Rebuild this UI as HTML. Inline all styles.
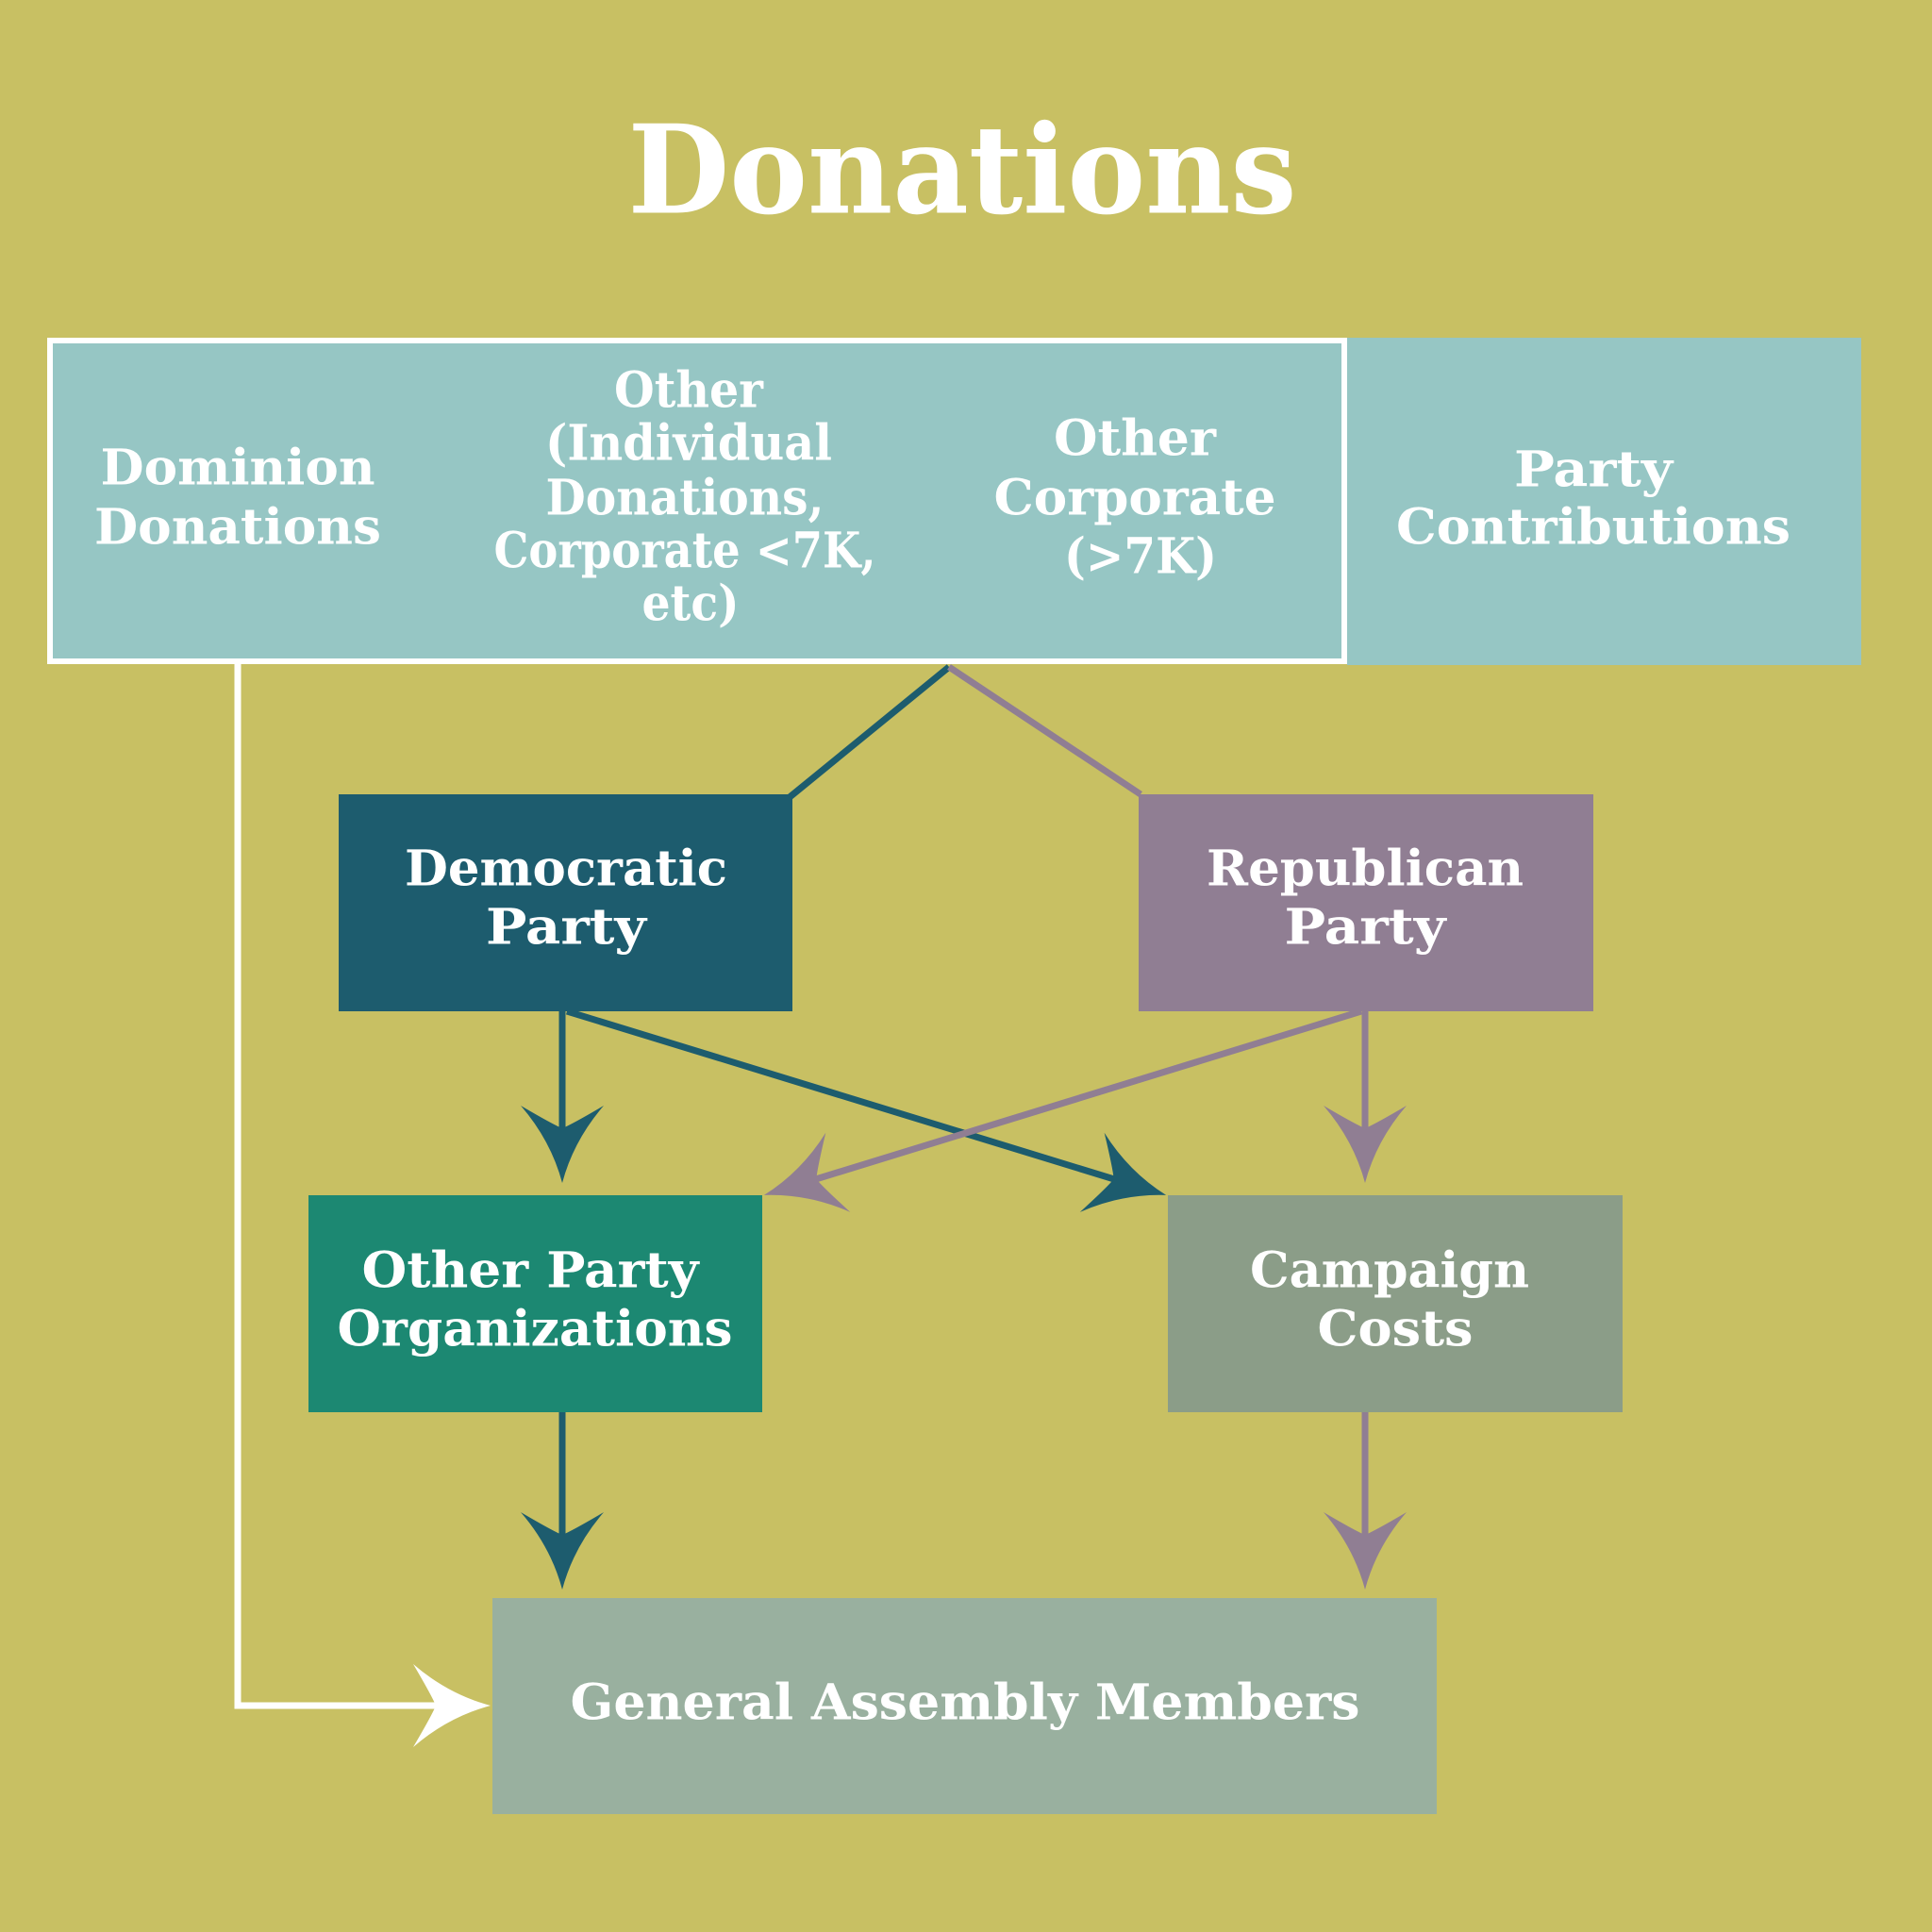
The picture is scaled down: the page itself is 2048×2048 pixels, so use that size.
<!DOCTYPE html>
<html><head><meta charset="utf-8"><style>
html,body{margin:0;padding:0;background:#c8c063;}
svg{display:block}
text{font-family:"DejaVu Serif","Liberation Serif",serif;font-weight:bold;fill:#fff;text-anchor:middle;dominant-baseline:central}
</style></head><body>
<svg width="2048" height="2048" viewBox="0 0 2048 2048" xmlns="http://www.w3.org/2000/svg">
<defs>
<marker id="mT" markerUnits="userSpaceOnUse" markerWidth="200" markerHeight="200" refX="-20" refY="0" viewBox="-100 -100 200 200" orient="auto"><path d="M0,0 Q-45,-12 -82,-44 Q-62,-10 -58,0 Q-62,10 -82,44 Q-45,12 0,0Z" fill="#1d5c6e"/></marker>
<marker id="mP" markerUnits="userSpaceOnUse" markerWidth="200" markerHeight="200" refX="-20" refY="0" viewBox="-100 -100 200 200" orient="auto"><path d="M0,0 Q-45,-12 -82,-44 Q-62,-10 -58,0 Q-62,10 -82,44 Q-45,12 0,0Z" fill="#907e93"/></marker>
<marker id="mW" markerUnits="userSpaceOnUse" markerWidth="200" markerHeight="200" refX="-20" refY="0" viewBox="-100 -100 200 200" orient="auto"><path d="M0,0 Q-45,-12 -82,-44 Q-62,-10 -58,0 Q-62,10 -82,44 Q-45,12 0,0Z" fill="#fff"/></marker>
</defs>
<rect width="2048" height="2048" fill="#c8c063"/>
<text x="1020" y="180" font-size="130" textLength="709" lengthAdjust="spacingAndGlyphs">Donations</text>

<rect x="1428" y="358" width="545" height="347" fill="#96c6c4"/>
<rect x="53" y="361" width="1372" height="340" fill="#96c6c4" stroke="#fff" stroke-width="6"/>

<g font-size="52">
<text x="252" y="496" textLength="291" lengthAdjust="spacingAndGlyphs">Dominion</text>
<text x="252" y="559" textLength="304" lengthAdjust="spacingAndGlyphs">Donations</text>
<text x="730" y="414" textLength="158" lengthAdjust="spacingAndGlyphs">Other</text>
<text x="730" y="470" textLength="304" lengthAdjust="spacingAndGlyphs">(Individual</text>
<text x="726" y="528" textLength="295" lengthAdjust="spacingAndGlyphs">Donations,</text>
<text x="726" y="584" textLength="405" lengthAdjust="spacingAndGlyphs">Corporate &lt;7K,</text>
<text x="732" y="640" textLength="103" lengthAdjust="spacingAndGlyphs">etc)</text>
<text x="1203" y="465" textLength="172" lengthAdjust="spacingAndGlyphs">Other</text>
<text x="1203" y="528" textLength="299" lengthAdjust="spacingAndGlyphs">Corporate</text>
<text x="1209" y="590" textLength="162" lengthAdjust="spacingAndGlyphs">(&gt;7K)</text>
<text x="1689" y="498" textLength="168" lengthAdjust="spacingAndGlyphs">Party</text>
<text x="1689" y="559" textLength="418" lengthAdjust="spacingAndGlyphs">Contributions</text>
</g>

<g stroke-width="7" fill="none">
<path d="M1006,707 L837,845" stroke="#1d5c6e"/>
<path d="M1006,707 L1209,842" stroke="#907e93"/>
<path d="M596,1072 L596,1234" stroke="#1d5c6e" marker-end="url(#mT)"/>
<path d="M601,1072 L1217,1261" stroke="#1d5c6e" marker-end="url(#mT)"/>
<path d="M1443,1072 L829,1261" stroke="#907e93" marker-end="url(#mP)"/>
<path d="M1447,1072 L1447,1234" stroke="#907e93" marker-end="url(#mP)"/>
<path d="M596,1497 L596,1665" stroke="#1d5c6e" marker-end="url(#mT)"/>
<path d="M1447,1497 L1447,1665" stroke="#907e93" marker-end="url(#mP)"/>
<path d="M252,704 L252,1808 L500,1808" stroke="#fff" marker-end="url(#mW)"/>
</g>

<rect x="359" y="842" width="481" height="230" fill="#1d5c6e"/>
<rect x="1207" y="842" width="482" height="230" fill="#907e93"/>
<rect x="327" y="1267" width="481" height="230" fill="#1c8872"/>
<rect x="1238" y="1267" width="482" height="230" fill="#8b9d88"/>
<rect x="522" y="1694" width="1001" height="229" fill="#99b09f"/>

<g font-size="52">
<text x="600" y="921" textLength="342" lengthAdjust="spacingAndGlyphs">Democratic</text>
<text x="600" y="983" textLength="170" lengthAdjust="spacingAndGlyphs">Party</text>
<text x="1447" y="921" textLength="336" lengthAdjust="spacingAndGlyphs">Republican</text>
<text x="1447" y="983" textLength="171" lengthAdjust="spacingAndGlyphs">Party</text>
<text x="562" y="1347" textLength="357" lengthAdjust="spacingAndGlyphs">Other Party</text>
<text x="567" y="1409" textLength="419" lengthAdjust="spacingAndGlyphs">Organizations</text>
<text x="1473" y="1347" textLength="296" lengthAdjust="spacingAndGlyphs">Campaign</text>
<text x="1479" y="1409" textLength="165" lengthAdjust="spacingAndGlyphs">Costs</text>
<text x="1023" y="1805" textLength="837" lengthAdjust="spacingAndGlyphs">General Assembly Members</text>
</g>
</svg>
</body></html>
